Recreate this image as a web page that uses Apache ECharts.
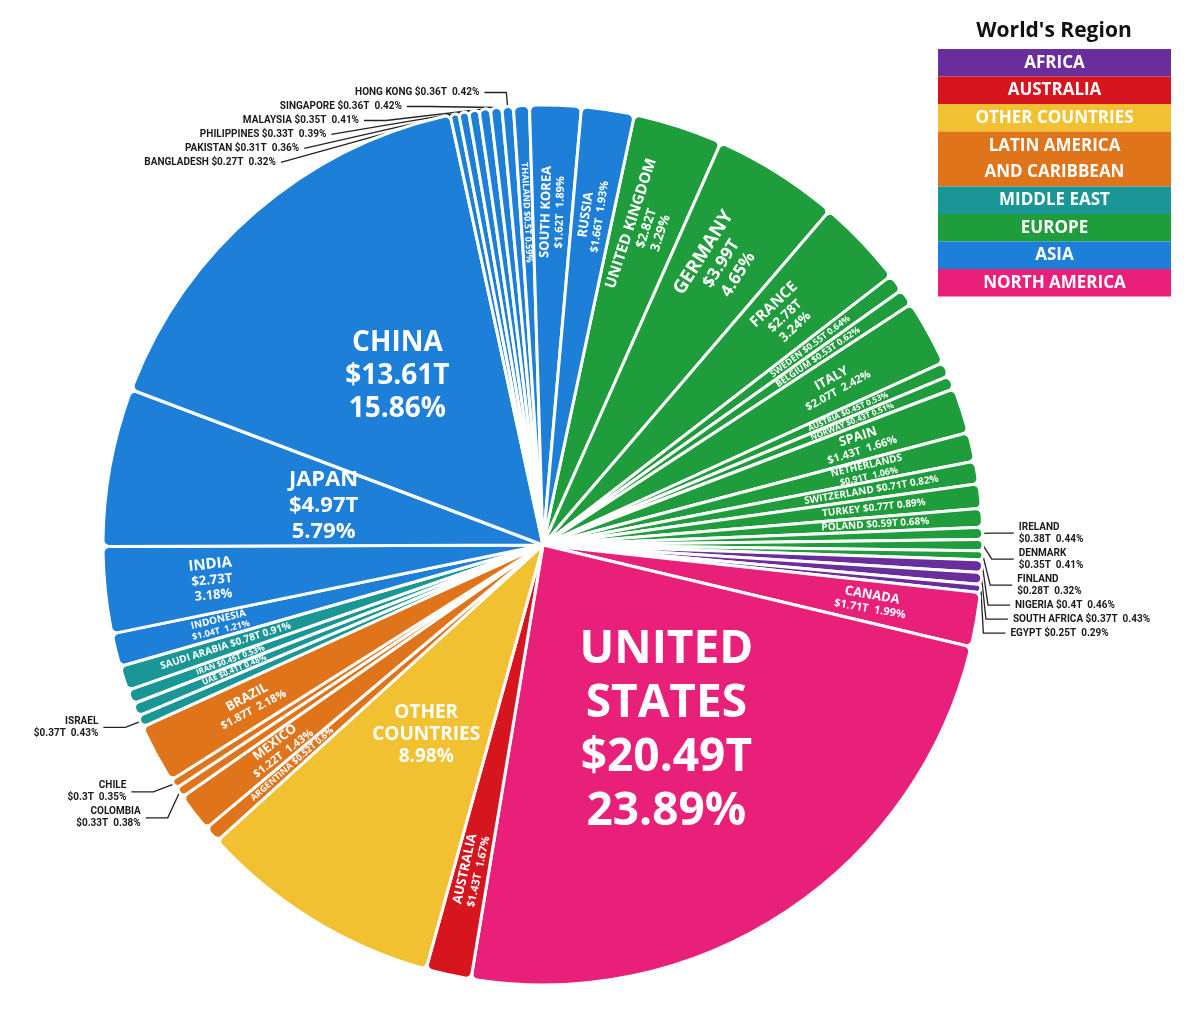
<!DOCTYPE html>
<html>
<head>
<meta charset="utf-8">
<script src="https://cdn.jsdelivr.net/npm/echarts/dist/echarts.min.js"></script>
<style>
html,body{margin:0;padding:0;background:#ffffff;}
#chart{width:1200px;height:1022px;}
</style>
</head>
<body>
<div id="chart"></div>
<script>
// ---- data ----
const countries = ['UNITED KINGDOM','GERMANY','FRANCE','SWEDEN','BELGIUM','ITALY','AUSTRIA','NORWAY','SPAIN','NETHERLANDS','SWITZERLAND','TURKEY','POLAND','IRELAND','DENMARK','FINLAND',
  'NIGERIA','SOUTH AFRICA','EGYPT',
  'CANADA','UNITED STATES',
  'AUSTRALIA',
  'OTHER COUNTRIES',
  'ARGENTINA','MEXICO','COLOMBIA','CHILE','BRAZIL',
  'ISRAEL','UAE','IRAN','SAUDI ARABIA',
  'INDONESIA','INDIA','JAPAN','CHINA','BANGLADESH','PAKISTAN','PHILIPPINES','MALAYSIA','SINGAPORE','HONG KONG','THAILAND','SOUTH KOREA','RUSSIA'];
const gdpTrillions = [2.82,3.99,2.78,0.55,0.53,2.07,0.45,0.43,1.43,0.91,0.71,0.77,0.59,0.38,0.35,0.28,
  0.4,0.37,0.25,
  1.71,20.49,
  1.43,
  7.70,
  0.52,1.22,0.33,0.3,1.87,
  0.37,0.41,0.45,0.78,
  1.04,2.73,4.97,13.61,0.27,0.31,0.33,0.35,0.36,0.36,0.50,1.62,1.66];
const sharePercent = [3.29,4.65,3.24,0.64,0.62,2.42,0.53,0.51,1.66,1.06,0.82,0.89,0.68,0.44,0.41,0.32,
  0.46,0.43,0.29,
  1.99,23.89,
  1.67,
  8.98,
  0.6,1.43,0.38,0.35,2.18,
  0.43,0.48,0.53,0.91,
  1.21,3.18,5.79,15.86,0.32,0.36,0.39,0.41,0.42,0.42,0.59,1.89,1.93];
const regionOf = ['EU','EU','EU','EU','EU','EU','EU','EU','EU','EU','EU','EU','EU','EU','EU','EU',
  'AF','AF','AF',
  'NA','NA',
  'AU',
  'OT',
  'LA','LA','LA','LA','LA',
  'ME','ME','ME','ME',
  'AS','AS','AS','AS','AS','AS','AS','AS','AS','AS','AS','AS','AS'];
const legendKeys = ['AF','AU','OT','LA','ME','EU','AS','NA'];
const legendLabels = ['AFRICA','AUSTRALIA','OTHER COUNTRIES','LATIN AMERICA\nAND CARIBBEAN','MIDDLE EAST','EUROPE','ASIA','NORTH AMERICA'];
const legendTitle = "World's Region";
const regionColors = {AF:'#6a2d9c', AU:'#d7151f', OT:'#f2c131', LA:'#e0741a', ME:'#1a9696', EU:'#1f9c3b', AS:'#1e7fd8', NA:'#e9207a'};

// ---- build options ----
const FONT = '"Open Sans", "DejaVu Sans", sans-serif';
const CENTER = [543, 545];
const R = 440;

function tier(p) {
  if (p >= 5) return 'big';
  if (p >= 0.47) return 'radial';
  return 'out';
}

const mainData = countries.map((name, i) => {
  const p = sharePercent[i];
  const g = gdpTrillions[i];
  const t = tier(p);
  const item = { name: name, value: g, itemStyle: { color: regionColors[regionOf[i]] } };
  if (t === 'big') {
    const fs = p > 20 ? 46 : p > 10 ? 28 : p > 7 ? 19 : 22;
    let disp = name;
    if (name === 'UNITED STATES') disp = 'UNITED\nSTATES';
    if (name === 'OTHER COUNTRIES') disp = 'OTHER\nCOUNTRIES';
    const valueLine = name === 'OTHER COUNTRIES' ? '' : ('$' + g + 'T\n');
    item.label = { show: true, position: 'inside', color: '#ffffff', fontWeight: 'bold', fontSize: fs,
      lineHeight: Math.round(fs * 1.18), fontFamily: FONT, formatter: disp + '\n' + valueLine + p + '%' };
    item.labelLine = { show: false };
  } else if (t === 'out') {
    const oneLine = regionOf[i] === 'AS' || regionOf[i] === 'AF';
    item.label = { show: true, position: 'outside',
      formatter: name + (oneLine ? ' ' : '\n') + '$' + g + 'T  ' + p + '%' };
    item.labelLine = { show: true };
  } else {
    item.label = { show: false };
    item.labelLine = { show: false };
  }
  return item;
});

const overlayData = countries.map((name, i) => {
  const p = sharePercent[i];
  const g = gdpTrillions[i];
  const t = tier(p);
  const item = { name: name, value: g };
  if (t !== 'radial') {
    item.label = { show: false };
    return item;
  }
  let nfs, vfs, text;
  if (p >= 3) {
    nfs = Math.round(6 + 2.8 * p); vfs = nfs - 2;
    text = '{n|' + name + '}\n{v|$' + g + 'T}\n{v|' + p + '%}';
  } else if (p >= 1.4) {
    nfs = 13; vfs = 11;
    text = '{n|' + name + '}\n{v|$' + g + 'T  ' + p + '%}';
  } else if (p >= 1.0) {
    nfs = 10; vfs = 9;
    text = '{n|' + name + '}\n{v|$' + g + 'T  ' + p + '%}';
  } else {
    nfs = Math.min(10, Math.max(8, Math.floor(p * 15.5))); vfs = nfs;
    text = '{n|' + name + ' $' + g + 'T ' + p + '%}';
  }
  item.label = {
    show: true, position: 'inside', rotate: 'radial', formatter: text,
    rich: {
      n: { fontSize: nfs, fontWeight: 'bold', color: '#ffffff', fontFamily: FONT, lineHeight: Math.round(nfs * 1.15) },
      v: { fontSize: vfs, fontWeight: 'bold', color: '#ffffff', fontFamily: FONT, lineHeight: Math.round(vfs * 1.15) }
    }
  };
  return item;
});

const graphics = [{
  type: 'text', x: 1054, y: 31, silent: true,
  style: { text: legendTitle, fill: '#111111', font: 'bold 21px ' + FONT, align: 'center', verticalAlign: 'middle' }
}];
let ly = 49;
legendKeys.forEach((k, i) => {
  const lines = legendLabels[i].split('\n').length;
  const h = 27.5 * lines;
  graphics.push({ type: 'rect', silent: true, shape: { x: 938, y: ly, width: 233, height: h }, style: { fill: regionColors[k] } });
  graphics.push({ type: 'text', silent: true, x: 1054.5, y: ly + h / 2,
    style: { text: legendLabels[i], fill: '#ffffff', font: 'bold 17px ' + FONT, align: 'center', verticalAlign: 'middle', lineHeight: 26 } });
  ly += h;
});

const chart = echarts.init(document.getElementById('chart'), null, { renderer: 'canvas' });
chart.setOption({
  backgroundColor: '#ffffff',
  animation: false,
  graphic: graphics,
  series: [
    {
      type: 'pie',
      center: CENTER,
      radius: [0, R],
      startAngle: 78,
      clockwise: true,
      avoidLabelOverlap: true,
      itemStyle: { borderColor: '#ffffff', borderWidth: 3, borderRadius: 6 },
      label: { color: '#1a1a1a', fontSize: 10, lineHeight: 12, fontWeight: 'bold', fontFamily: 'Roboto, sans-serif' },
      labelLine: { length: 14, length2: 22, lineStyle: { color: '#222222', width: 1.3 } },
      emphasis: { disabled: true },
      data: mainData
    },
    {
      type: 'pie',
      center: CENTER,
      radius: [R * 0.5, R],
      startAngle: 78,
      clockwise: true,
      silent: true,
      avoidLabelOverlap: false,
      itemStyle: { color: 'rgba(0,0,0,0)', borderWidth: 0 },
      labelLine: { show: false },
      emphasis: { disabled: true },
      data: overlayData
    }
  ]
});
</script>
</body>
</html>
